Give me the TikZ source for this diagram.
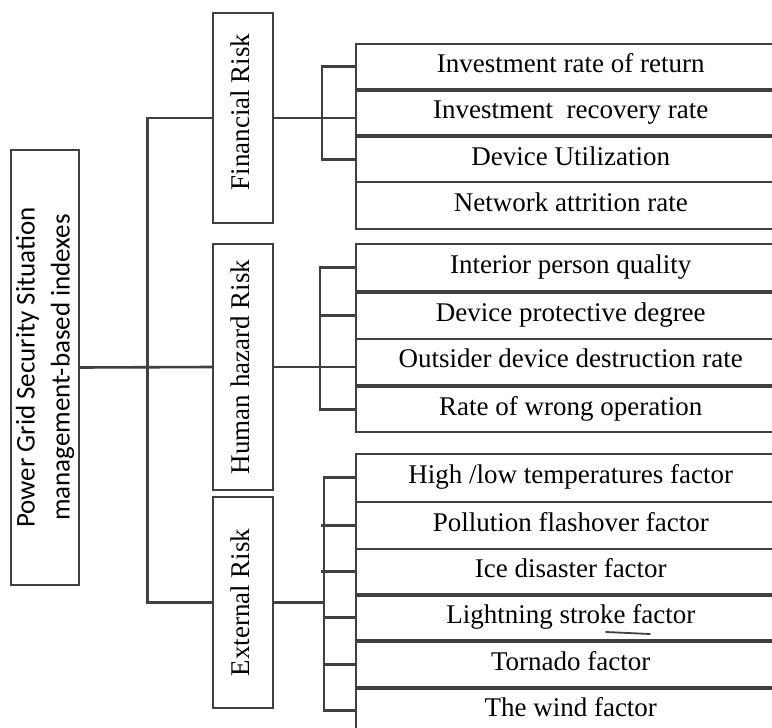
\documentclass[tikz,border=0pt]{standalone}
\usepackage{fontspec}
\setmainfont{Liberation Serif}
\newfontfamily\rootfont{Carlito}
\definecolor{linegray}{HTML}{404040}

\begin{document}
\begin{tikzpicture}[x=1pt,y=-1pt,
  box/.style={draw=linegray, line width=1.5pt, inner sep=0pt,
    font=\fontsize{27}{32}\selectfont},
  item/.style={box, anchor=north west, minimum width=430pt,
    text height=18pt, text depth=6pt},
  cat/.style={box, rotate=90, minimum height=60pt,
    text height=18pt, text depth=6pt},
  rootbox/.style={box, rotate=90, minimum height=68pt, align=center,
    font=\rootfont\fontsize{27}{35}\selectfont},
  conn/.style={draw=linegray, line width=2.6pt},
]
\clip (0,0) rectangle (772,728);

% root and first-level categories
\node[rootbox, minimum width=435pt] (root) at (45,367.5)
  {Power Grid Security Situation\\management-based indexes};
\node[cat, minimum width=210pt] (fin) at (243,118) {\hspace*{12pt}Financial Risk};
\node[cat, minimum width=246pt] (hum) at (243,367) {Human hazard Risk};
\node[cat, minimum width=211pt] (ext) at (243,602.5) {External Risk};

% financial indexes
\node[item, minimum height=45pt] (f1) at (355,43)  {Investment rate of return};
\node[item, minimum height=44pt] (f2) at (355,90)  {Investment\ \ recovery rate};
\node[item, minimum height=45pt] (f3) at (355,136) {Device Utilization};
\node[item, minimum height=47pt] (f4) at (355,181) {Network attrition rate};

% human hazard indexes
\node[item, minimum height=47pt] (h1) at (355,243) {Interior person quality};
\node[item, minimum height=46pt] (h2) at (355,292) {Device protective degree};
\node[item, minimum height=46pt] (h3) at (355,338) {Outsider device destruction rate};
\node[item, minimum height=45pt] (h4) at (355,386) {Rate of wrong operation};

% external indexes
\node[item, minimum height=48pt] (e1) at (355,453) {High /low temperatures factor};
\node[item, minimum height=47pt] (e2) at (355,501) {Pollution flashover factor};
\node[item, minimum height=45pt] (e3) at (355,548) {Ice disaster factor};
\node[item, minimum height=44pt] (e4) at (355,595) {Lightning stroke factor};
\node[item, minimum height=45pt] (e5) at (355,641) {Tornado factor};
\node[item, minimum height=43pt] (e6) at (355,688) {The wind factor};

% trunk
\draw[conn] (root.south) -- (hum.north);
\draw[conn] (fin.north) -- ++(-65,0) |- (ext.north);

% financial bracket
\draw[conn] (fin.south) -- (fin.south -| f2.west);
\draw[conn] (f1.west) -- ++(-33,0) |- (f3.west);

% human hazard bracket
\draw[conn] (hum.south) -- (hum.south -| h1.west);
\draw[conn] (h1.west) -- ++(-35,0) |- (h4.west);
\draw[conn] (h2.west) -- ++(-35,0);

% external bracket
\coordinate (eb) at (324,0);
\draw[conn] (ext.south) -- (ext.south -| eb);
\draw[conn] (e1.west) -- ++(-31,0) |- (e6.west);
\draw[conn] (e2.west) -- ++(-34,0);
\draw[conn] (e3.west) -- ++(-34,0);
\draw[conn] (e4.west) -- ++(-31,0);
\draw[conn] (e5.west) -- ++(-31,0);

% pen stroke under "stroke factor"
\draw[linegray, line width=1.8pt, line cap=round] (606,632) -- (650,634);
\end{tikzpicture}
\end{document}
